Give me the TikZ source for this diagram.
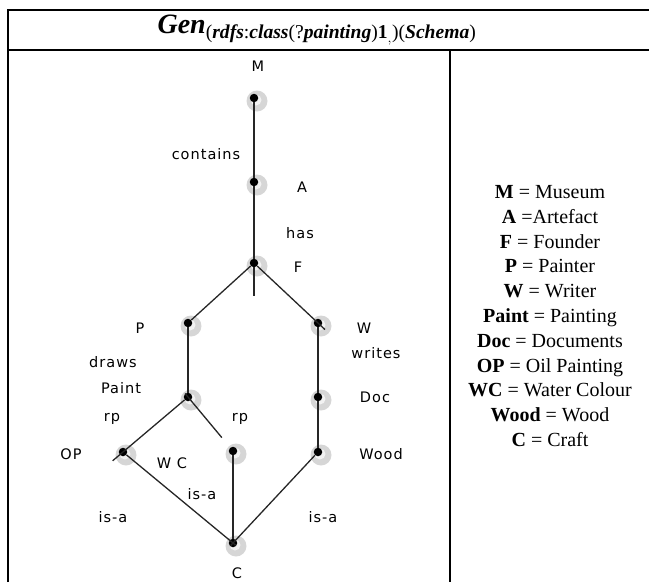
\documentclass[tikz,border=0pt]{standalone}
\usepackage{amsmath}
\usepackage{fontspec}
\setmainfont{Liberation Serif}
\newfontfamily\graphfont[LetterSpace=7]{DejaVu Sans}
\newcommand{\bi}[1]{\textbf{\textit{#1}}}
\usetikzlibrary{positioning}

\begin{document}
\begin{tikzpicture}[
    x=1pt,y=-1pt,
    dot/.style={%
      circle,
      fill=black,
      inner sep=0pt,
      minimum size=8.5pt,
    },
    halo/.style={fill=black!16},
    edge/.style={draw=black!85,line width=1.3pt},
    lbl/.style={font=\graphfont\fontsize{14.5}{16}\selectfont,inner sep=0pt},
    frame/.style={line width=1.6pt},
  ]

    \useasboundingbox (0,0) rectangle (649,582);

    % table
    \draw [frame] (8,582) -- (8,10) -- (649,10);
    \draw [frame] (8,50) -- (649,50);
    \draw [frame] (450,50) -- (450,582);
    \node (title) at (317,30) {\fontsize{28}{30}\selectfont
      \bi{Gen}$_{\text{(\bi{rdfs}:\bi{class}(?\bi{painting})\textbf{1}$_{,}$)(\bi{Schema})}}$};

    % concept nodes
    \foreach \nm/\px/\py in {M/254/98, A/254/182, F/254/263, P/188/323, W/318/323,
        Paint/188/397, Doc/318/397, OP/123/452, WC/233/451, Wood/318/452, C/233/543} {
      \fill [halo] (\px+3,\py+3) circle (10.5);
      \fill [black!5] (\px+2,\py+2) circle (5.5);
      \node [dot] (\nm) at (\px,\py) {};
    }
    \coordinate (stub) at (254,296);

    \draw [edge] (M) -- (A);
    \draw [edge] (A) -- (F);
    \draw [edge] (F) -- (stub);
    \draw [edge] (F) -- (P);
    \draw [edge,shorten >=-14pt] (F) -- (W);
    \draw [edge] (P) -- (Paint);
    \draw [edge] (W) -- (Doc);
    \draw [edge] (Doc) -- (Wood);
    \draw [edge,shorten >=-18pt] (Paint) -- (OP);
    \draw [edge,shorten <=-9pt,shorten >=13pt] (Paint) -- (WC);
    \draw [edge] (WC) -- (C);
    \draw [edge,shorten >=-8pt] (OP) -- (C);
    \draw [edge,shorten >=-8pt] (Wood) -- (C);

    % labels
    \node [lbl] (labM) at (258,66) {M};
    \node [lbl] (labA) at (302,187) {A};
    \node [lbl] (labF) at (298,267) {F};
    \node [lbl] (labP) at (140,328) {P};
    \node [lbl] (labW) at (364,328) {W};
    \node [lbl] (labPaint) at (121,388) {Paint};
    \node [lbl] (labDoc) at (375,397) {Doc};
    \node [lbl] (labOP) at (71,454) {OP};
    \node [lbl] (labWC) at (172,463) {W C};
    \node [lbl] (labWood) at (381,454) {Wood};
    \node [lbl] (labC) at (237,573) {C};
    \node [lbl] (contains) at (206,154) {contains};
    \node [lbl] (has) at (300,233) {has};
    \node [lbl] (draws) at (113,362) {draws};
    \node [lbl] (writes) at (376,353) {writes};
    \node [lbl] (rpL) at (112,419) {rp};
    \node [lbl] (rpR) at (240,419) {rp};
    \node [lbl] (isaL) at (113,517) {is-a};
    \node [lbl] (isaM) at (202,494) {is-a};
    \node [lbl] (isaR) at (323,517) {is-a};

    % legend
    \node [align=center,font=\fontsize{20}{24.8}\selectfont] (legend) at (550,316) {%
      \textbf{M} = Museum\\
      \textbf{A} =Artefact\\
      \textbf{F} = Founder\\
      \textbf{P} = Painter\\
      \textbf{W} = Writer\\
      \textbf{Paint} = Painting\\
      \textbf{Doc} = Documents\\
      \textbf{OP} = Oil Painting\\
      \textbf{WC} = Water Colour\\
      \textbf{Wood} = Wood\\
      \textbf{C} = Craft};
\end{tikzpicture}
\end{document}
